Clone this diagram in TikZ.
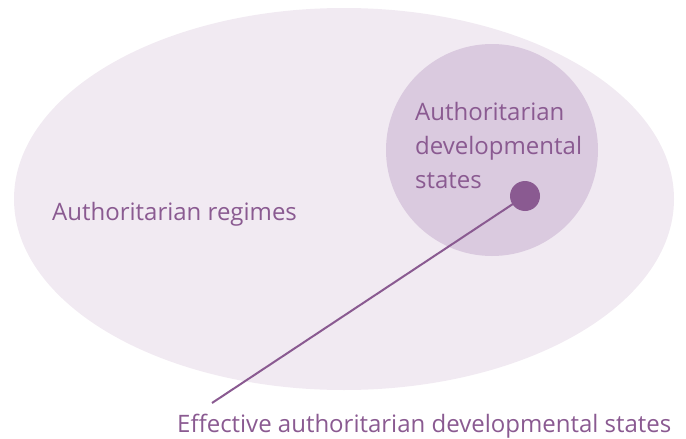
\documentclass[tikz,border=0pt]{standalone}
\usepackage{fontspec}
\setmainfont{Open Sans}
\definecolor{outerfill}{HTML}{F1EAF2}
\definecolor{innerfill}{HTML}{DACADF}
\definecolor{plum}{HTML}{8A5A91}
\begin{document}
\begin{tikzpicture}[x=1pt,y=-1pt,
  label text/.style={text=plum,font=\fontsize{24}{34}\selectfont,inner sep=0pt},
  set/.style={draw=none}]
\useasboundingbox (0,0) rectangle (686,439);
\fill[outerfill] (344,199) ellipse [x radius=330,y radius=191];
\node[set,circle,fill=innerfill,minimum size=212pt] (dev) at (492,150) {};
\node[circle,fill=plum,minimum size=30pt,inner sep=0pt] (dot) at (525,196) {};
\coordinate (tail) at (212,403);
\draw[plum,line width=2pt] (dot.center) -- (tail);
\node[label text,anchor=base west] (reg) at (52,220) {Authoritarian regimes};
\node[label text,anchor=base west,align=left] (adt) at (415,188) {Authoritarian\\developmental\\states};
\node[label text,anchor=base west] (eff) at (177,432) {Effective authoritarian developmental states};
\end{tikzpicture}
\end{document}
